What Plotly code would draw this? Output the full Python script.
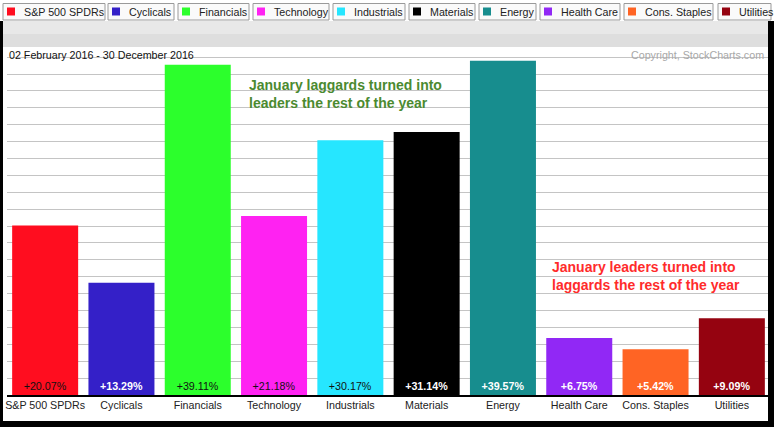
import plotly.graph_objects as go

# ---- data ----
categories = ["S&P 500 SPDRs", "Cyclicals", "Financials", "Technology", "Industrials",
              "Materials", "Energy", "Health Care", "Cons. Staples", "Utilities"]
changes = [20.07, 13.29, 39.11, 21.18, 30.17, 31.14, 39.57, 6.75, 5.42, 9.09]
date_range = "02 February 2016 - 30 December 2016"
copyright_text = "Copyright, StockCharts.com"
note_green = "January laggards turned into<br>leaders the rest of the year"
note_red = "January leaders turned into<br>laggards the rest of the year"

# ---- styles ----
colors = ["#ff0d1f", "#3420c8", "#2cff2c", "#ff22f2", "#26e6ff",
          "#000000", "#178d8e", "#9128f5", "#ff6424", "#950310"]
label_white = [False, True, False, False, False, True, True, True, True, True]
legend_left = [3, 108, 178, 253, 333, 409, 479, 540, 624, 718]
legend_right = [105, 174, 249, 329, 405, 475, 536, 620, 713, 771]

FONT = "Liberation Sans, Arial, sans-serif"
W, H = 774, 427
L, R, T, B = 7, 770, 47, 395


def px(x):
    return (x - L) / (R - L)


def py(y):
    return (B - y) / (B - T)


texts = []
tcolors = []
for v, wht in zip(changes, label_white):
    s = f"+{v:.2f}%"
    texts.append(f"<b>{s}</b>" if wht else s)
    tcolors.append("#ffffff" if wht else "#111111")

fig = go.Figure(go.Bar(
    x=categories, y=changes, marker=dict(color=colors, line=dict(width=0)),
    text=texts, textposition="inside", insidetextanchor="start", textangle=0,
    textfont=dict(family=FONT, size=10.7, color=tcolors),
    constraintext="none", hoverinfo="skip",
))

shapes = []
annotations = []

# grey band under legend
shapes.append(dict(type="rect", xref="paper", yref="paper", x0=px(3), x1=px(768),
                   y0=py(21), y1=py(34), fillcolor="#e8e8e8", line=dict(width=0), layer="above"))
shapes.append(dict(type="rect", xref="paper", yref="paper", x0=px(3), x1=px(768),
                   y0=py(34), y1=py(47), fillcolor="#dedede", line=dict(width=0), layer="above"))

# legend boxes
for name, col, xl, xr in zip(categories, colors, legend_left, legend_right):
    shapes.append(dict(type="rect", xref="paper", yref="paper", x0=px(xl), x1=px(xr),
                       y0=py(3.5), y1=py(20), fillcolor="#fafafa",
                       line=dict(color="#9a9a9a", width=1), layer="above"))
    shapes.append(dict(type="rect", xref="paper", yref="paper", x0=px(xl + 4), x1=px(xl + 12),
                       y0=py(7.5), y1=py(15.5), fillcolor=col, line=dict(width=0), layer="above"))
    annotations.append(dict(xref="paper", yref="paper", x=px(xl + 19), y=py(11.8),
                            xanchor="left", yanchor="middle", showarrow=False, text=name,
                            font=dict(family=FONT, size=10.7, color="#222222")))

# black frame
for x0, x1, y0, y1 in [(0, 3, 21, 427), (768, 774, 21, 427), (0, 774, 421, 427)]:
    shapes.append(dict(type="rect", xref="paper", yref="paper", x0=px(x0), x1=px(x1),
                       y0=py(y0), y1=py(y1), fillcolor="#000000", line=dict(width=0), layer="above"))

annotations.append(dict(xref="paper", yref="paper", x=px(7), y=py(54.5), xanchor="left",
                        yanchor="middle", showarrow=False, text=date_range,
                        font=dict(family=FONT, size=10.7, color="#111111")))
annotations.append(dict(xref="paper", yref="paper", x=px(766), y=py(54.5), xanchor="right",
                        yanchor="middle", showarrow=False, text=copyright_text,
                        font=dict(family=FONT, size=10.7, color="#a8a8a8")))
annotations.append(dict(xref="paper", yref="paper", x=px(247), y=py(94), xanchor="left",
                        yanchor="middle", align="left", showarrow=False, text=f"<b>{note_green}</b>",
                        font=dict(family=FONT, size=14, color="#4b8a30")))
annotations.append(dict(xref="paper", yref="paper", x=px(550), y=py(275.5), xanchor="left",
                        yanchor="middle", align="left", showarrow=False, text=f"<b>{note_red}</b>",
                        font=dict(family=FONT, size=14, color="#ff2b2b")))

fig.update_layout(
    width=W, height=H, autosize=False,
    margin=dict(l=L, r=W - R, t=T, b=H - B, pad=0),
    paper_bgcolor="#ffffff", plot_bgcolor="#ffffff",
    bargap=0.135, showlegend=False,
    shapes=shapes, annotations=annotations,
    xaxis=dict(showgrid=False, showline=True, linecolor="#000000", linewidth=1.5,
               ticks="", tickfont=dict(family=FONT, size=10.7, color="#222222"),
               fixedrange=True),
    yaxis=dict(range=[0, 41.2], dtick=2, showgrid=True, gridcolor="#c4c4c4", gridwidth=1,
               zeroline=False, showticklabels=False, ticks="", fixedrange=True),
    font=dict(family=FONT),
)

fig.write_html("out.html", config={"displayModeBar": False, "staticPlot": True},
               post_script="document.body.style.margin='0';document.body.style.overflow='hidden';")
